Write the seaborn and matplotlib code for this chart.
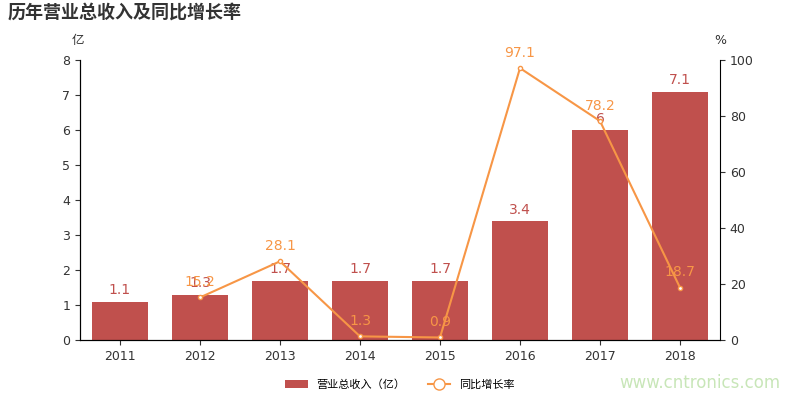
import numpy as np
import pandas as pd
import seaborn as sns
import matplotlib.pyplot as plt

plt.rcParams['font.family'] = ['DejaVu Sans', 'Noto Sans CJK SC']

years = ['2011', '2012', '2013', '2014', '2015', '2016', '2017', '2018']
revenue = [1.1, 1.3, 1.7, 1.7, 1.7, 3.4, 6, 7.1]
growth = [np.nan, 15.2, 28.1, 1.3, 0.9, 97.1, 78.2, 18.7]

bar_color = '#c0504d'
line_color = '#f79646'

df = pd.DataFrame({'year': years, 'revenue': revenue, 'growth': growth})

fig = plt.figure(figsize=(8, 4), dpi=100)
ax = fig.add_axes([0.1, 0.15, 0.8, 0.7])
sns.barplot(data=df, x='year', y='revenue', color=bar_color, width=0.7, ax=ax,
            saturation=1, label='营业总收入（亿）')
if ax.get_legend():
    ax.get_legend().remove()
ax.set_ylim(0, 8)
ax.set_xlabel('')
ax.set_ylabel('')
for i, v in enumerate(revenue):
    ax.text(i, v + 0.12, f'{v:g}', ha='center', va='bottom', color=bar_color, fontsize=10)

ax2 = ax.twinx()
x = np.arange(len(years))
ax2.plot(x, growth, color=line_color, lw=1.5, marker='o', markersize=3,
         markerfacecolor='white', label='同比增长率')
ax2.set_ylim(0, 100)
for i, v in enumerate(growth):
    if not np.isnan(v):
        ax2.text(i, v + 3, f'{v:g}', ha='center', va='bottom', color=line_color, fontsize=10)

for a in (ax, ax2):
    a.spines['top'].set_visible(False)
    a.tick_params(labelsize=9, colors='#333333')
ax.spines['right'].set_visible(False)
ax.set_xlim(-0.5, 7.5)

fig.text(0.01, 0.955, '历年营业总收入及同比增长率', fontsize=13, fontweight='bold', color='#333333',
         family='Noto Sans CJK SC')
fig.text(0.09, 0.89, '亿', fontsize=9, color='#333333', family='Noto Sans CJK SC')
fig.text(0.893, 0.89, '%', fontsize=9, color='#333333')
fig.text(0.975, 0.03, 'www.cntronics.com', fontsize=12, color='#c8e6b8', ha='right')

h1, l1 = ax.get_legend_handles_labels()
h2, l2 = ax2.get_legend_handles_labels()
leg = fig.legend(h1 + h2, l1 + l2, loc='lower center', bbox_to_anchor=(0.5, 0.0), ncol=2,
                 frameon=False, fontsize=8, prop={'family': 'Noto Sans CJK SC', 'size': 8})
leg.legend_handles[1].set_markersize(8)

fig.savefig('out.png')
